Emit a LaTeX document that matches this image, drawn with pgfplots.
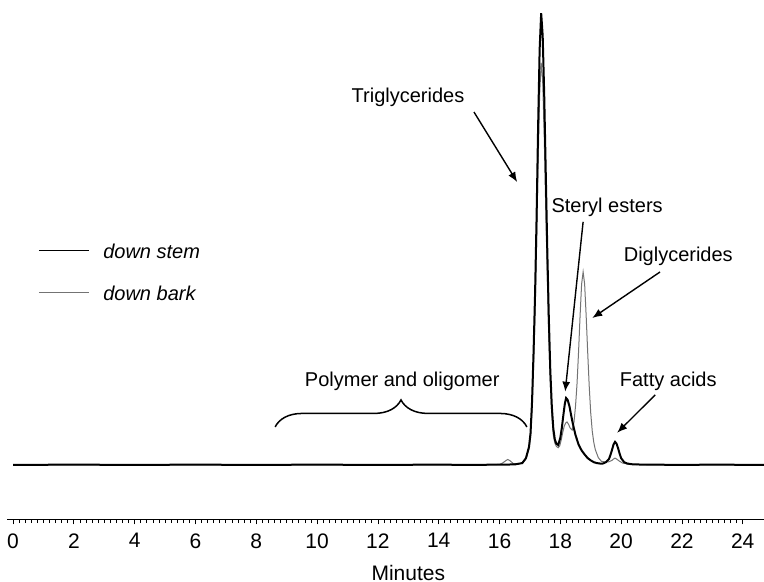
\documentclass[border=0pt]{standalone}
\usepackage{pgfplots}
\pgfplotsset{compat=1.18}
\usepackage{fontspec}
\setmainfont{Liberation Sans}
\usetikzlibrary{arrows.meta,decorations.pathreplacing}

% chromatogram traces (minutes, relative response)
\pgfplotstableread{
t v
0 0
2 0.05
4 0
6 0.05
8 0
10 0.05
12 0
14 0.05
15 0
16 0.05
16.5 0.1
16.75 0.4
16.87 1.5
16.97 4
17.02 7
17.07 14
17.12 25
17.17 38
17.22 55
17.27 75
17.32 92
17.37 100
17.42 95
17.47 82
17.52 65
17.57 48
17.62 33
17.67 21
17.72 13
17.77 8
17.82 5.6
17.87 4.7
17.93 4.4
18.0 6.0
18.05 8.2
18.1 11
18.15 13.6
18.19 14.8
18.24 14.4
18.3 13
18.35 11.2
18.4 9.5
18.45 8
18.5 6.6
18.6 4.5
18.7 3.2
18.8 2.3
18.9 1.5
19.0 1.0
19.1 0.6
19.2 0.4
19.3 0.3
19.4 0.3
19.5 0.6
19.6 1.3
19.65 2.2
19.7 3.3
19.75 4.5
19.8 5.1
19.85 4.7
19.9 3.7
19.95 2.5
20.0 1.5
20.1 0.6
20.2 0.3
20.4 0.1
21 0.05
22 0
23 0.05
24.7 0
}\stem

\pgfplotstableread{
t v
0 0
4 0
8 0
12 0
15.5 0
16.0 0.1
16.1 0.4
16.2 0.9
16.27 1.2
16.35 0.9
16.45 0.3
16.6 0.2
16.75 0.4
16.87 1.3
16.97 3.5
17.02 6
17.07 12
17.12 22
17.17 34
17.22 49
17.27 67
17.32 82
17.37 89
17.42 85
17.47 73
17.52 57
17.57 42
17.62 28
17.67 18
17.72 11
17.77 6.5
17.82 4.8
17.87 4.1
17.93 3.8
17.98 4.2
18.03 5.5
18.08 7.2
18.13 8.6
18.18 9.3
18.22 9.5
18.27 9.0
18.32 8.2
18.39 7.7
18.45 9.5
18.5 13
18.55 18
18.6 25
18.65 33
18.7 40
18.75 42.7
18.8 40
18.85 33
18.9 25
18.95 17.5
19.0 11.5
19.05 7.5
19.1 5
19.15 3.4
19.25 1.6
19.35 0.8
19.5 0.6
19.6 0.7
19.7 1.0
19.75 1.3
19.8 1.5
19.85 1.3
19.95 0.8
20.05 0.4
20.2 0.2
20.4 0.1
21 0
24.7 0
}\bark

\begin{document}
\begin{tikzpicture}
\begin{axis}[
  scale only axis,
  width=378.5pt, height=260pt,
  xmin=-0.2, xmax=24.7,
  ymin=-12.2, ymax=102.9,
  axis x line=bottom,
  axis y line=none,
  x axis line style={-, line width=0.5pt},
  xtick={0,2,...,24},
  minor x tick num=9,
  tick align=outside,
  major tick length=2.2pt,
  minor tick length=1.6pt,
  every tick/.style={black, line width=0.4pt},
  /pgf/number format/assume math mode=true,
  xticklabel style={font=\fontsize{10.5}{12}\selectfont, yshift=-1pt},
  xlabel={Minutes},
  xlabel style={at={(axis cs:13,-12.2)}, anchor=center, yshift=-26.5pt, font=\fontsize{10.5}{12}\selectfont},
  reverse legend,
  legend style={draw=none, fill=none, at={(axis cs:0.82,49.1)}, anchor=north west,
    inner sep=0pt, row sep=11pt, font=\itshape,
    nodes={inner sep=0pt, text height=7.5pt, text depth=2.5pt},
    /tikz/every odd column/.style={column sep=7pt}},
  legend image code/.code={\draw[#1, line width=0.45pt] (0pt,1.5pt) -- (25pt,1.5pt);},
  legend cell align=left,
]
\addplot[black!55, line width=0.5pt] table[x=t, y=v] {\bark};
\addlegendentry{down bark}
\addplot[black, line width=1pt] table[x=t, y=v] {\stem};
\addlegendentry{down stem}

\node at (axis cs:12.99,81.4) {Triglycerides};
\draw[-{Latex[length=5pt,width=4pt]}, line width=0.7pt] (axis cs:15.16,78.1) -- (axis cs:16.58,62.6);
\node at (axis cs:19.54,57) {Steryl esters};
\draw[-{Latex[length=5pt,width=4pt]}, line width=0.7pt] (axis cs:18.75,53.8) -- (axis cs:18.16,16.2);
\node at (axis cs:21.88,46.2) {Diglycerides};
\draw[-{Latex[length=5pt,width=4pt]}, line width=0.7pt] (axis cs:21.28,42.7) -- (axis cs:19.05,32.5);
\node at (axis cs:21.55,18.6) {Fatty acids};
\draw[-{Latex[length=5pt,width=4pt]}, line width=0.7pt] (axis cs:21.12,15.5) -- (axis cs:19.87,7.1);
\node at (axis cs:12.8,18.4) {Polymer and oligomer};
\draw[decorate, decoration={brace, amplitude=13.5pt}, line width=0.75pt] (axis cs:8.62,8.4) -- (axis cs:16.9,8.4);
\end{axis}
\pgfresetboundingbox
\path (-3.5pt,-31pt) rectangle (378.5pt,260pt);
\end{tikzpicture}
\end{document}
